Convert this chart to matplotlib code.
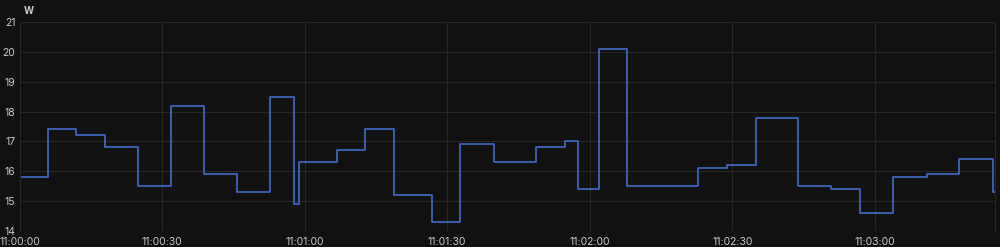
import datetime as dt
import matplotlib
matplotlib.use("Agg")
import matplotlib.pyplot as plt
import matplotlib.dates as mdates

# seconds after 11:00:00 where each new reading starts
t_sec = [0, 5.9, 11.9, 17.9, 24.9, 31.8, 38.8, 45.8, 52.8, 57.7, 58.9, 66.9,
         72.8, 78.9, 86.9, 92.8, 99.9, 108.8, 114.9, 117.6, 121.9, 127.8,
         142.8, 148.9, 154.9, 163.9, 170.8, 176.8, 183.8, 190.9, 197.8, 204.9]
watts = [15.8, 17.4, 17.2, 16.8, 15.5, 18.2, 15.9, 15.3, 18.5, 14.9, 16.3, 16.7,
         17.4, 15.2, 14.3, 16.9, 16.3, 16.8, 17.0, 15.4, 20.1, 15.5,
         16.1, 16.2, 17.8, 15.5, 15.4, 14.6, 15.8, 15.9, 16.4, 15.3]
t_end = 205.3
y_ticks = [14, 15, 16, 17, 18, 19, 20, 21]

start = dt.datetime(2024, 1, 1, 11, 0, 0)
times = [start + dt.timedelta(seconds=s) for s in t_sec + [t_end]]
vals = watts + [watts[-1]]

bg = "#111111"
grid_c = "#272727"
txt = "#c8c8d0"

plt.rcParams["font.family"] = ["Inter", "DejaVu Sans"]

fig = plt.figure(figsize=(10, 2.47), dpi=100, facecolor=bg)
ax = fig.add_axes([0.0195, 0.065, 0.9755, 0.846])
ax.set_facecolor(bg)

ax.step(times, vals, where="post", color="#3e63bd", lw=1.3)

ax.set_ylim(14, 21)
ax.set_yticks(y_ticks)
ax.set_xlim(times[0], times[-1])
ax.xaxis.set_major_locator(mdates.SecondLocator(bysecond=[0, 30]))
ax.xaxis.set_major_formatter(mdates.DateFormatter("%H:%M:%S"))

ax.grid(True, color=grid_c, lw=0.8)
ax.tick_params(colors=txt, labelsize=7.5, length=0, pad=4)
ax.tick_params(axis="y", pad=3)
for s in ["top", "bottom"]:
    ax.spines[s].set_visible(False)
for s in ["left", "right"]:
    ax.spines[s].set_color(grid_c)
    ax.spines[s].set_linewidth(0.8)

ax.text(0.004, 1.03, "W", transform=ax.transAxes, color=txt, fontsize=7,
        fontweight="bold", ha="left", va="bottom")

fig.savefig("out.png", dpi=100, facecolor=bg)
